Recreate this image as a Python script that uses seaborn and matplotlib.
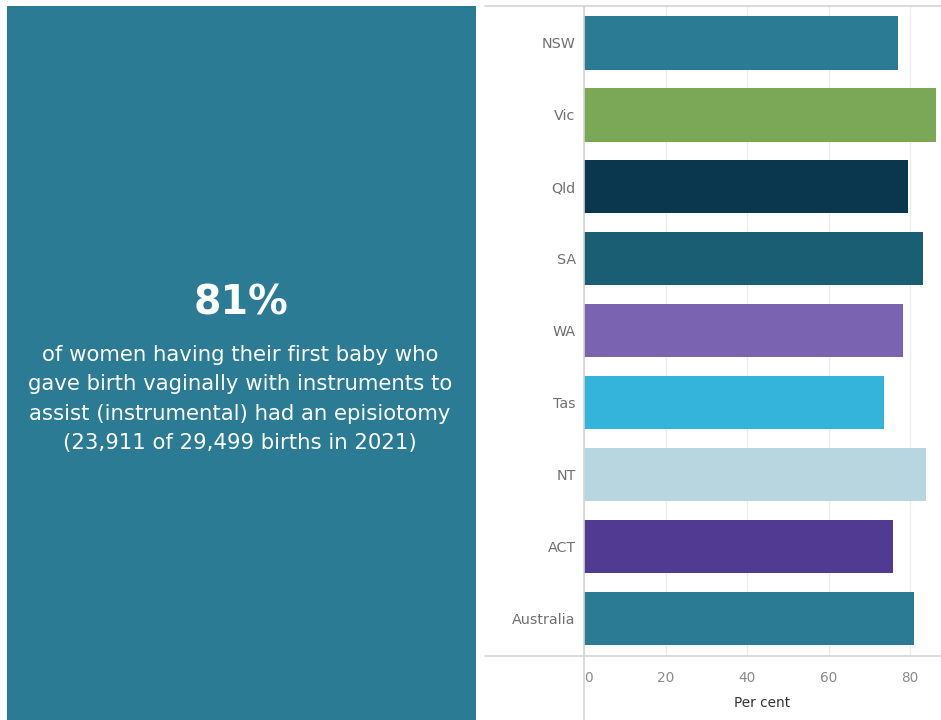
import matplotlib
matplotlib.use("Agg")
import matplotlib.pyplot as plt
from matplotlib.lines import Line2D
from matplotlib.patches import Rectangle
import seaborn as sns
import pandas as pd

# Episiotomy rates for first-time mothers with instrumental vaginal birth, 2021
states = ["NSW", "Vic", "Qld", "SA", "WA", "Tas", "NT", "ACT", "Australia"]
per_cent = [77.1, 86.4, 79.4, 83.1, 78.3, 73.5, 83.9, 75.9, 81.0]
bar_colours = ["#2a7b93", "#7aa857", "#0a374d", "#1a5e74", "#7a63b0",
               "#34b3db", "#b8d6df", "#503a92", "#2a7b93"]
x_ticks = [0, 20, 40, 60, 80]

headline = "81%"
summary = ("of women having their first baby who\n"
           "gave birth vaginally with instruments to\n"
           "assist (instrumental) had an episiotomy\n"
           "(23,911 of 29,499 births in 2021)")

sns.set_theme(style="white")
plt.rcParams["font.family"] = ["DejaVu Sans"]

W, H = 941, 720
fig = plt.figure(figsize=(W / 100, H / 100), dpi=100)
fig.patch.set_facecolor("white")

# Highlight panel on the left
panel = Rectangle((7 / W, 0), (476 - 7) / W, 1 - 6 / H, transform=fig.transFigure,
                  facecolor="#2a7b93", edgecolor="none")
fig.add_artist(panel)
fig.text(241 / W, 1 - 303 / H, headline, ha="center", va="center",
         color="white", fontsize=28.5, fontweight="bold")
fig.text(240 / W, 1 - 399 / H, summary, ha="center", va="center",
         color="white", fontsize=15.3, linespacing=1.58)

# Bar chart on the right
ax_left, ax_right = 584 / W, 941 / W
ax_top, ax_bottom = 1 - 6 / H, 1 - 656 / H
ax = fig.add_axes([ax_left, ax_bottom, ax_right - ax_left, ax_top - ax_bottom])

df = pd.DataFrame({"state": states, "value": per_cent})
sns.barplot(data=df, x="value", y="state", hue="state", palette=bar_colours,
            order=states, legend=False, width=0.745, saturation=1, ax=ax,
            edgecolor="none")

ax.set_xlim(0, 87.6)
ax.set_ylim(8.52, -0.51)
ax.set_xticks(x_ticks)
ax.set_xticklabels([str(t) for t in x_ticks])
ax.set_axisbelow(True)
ax.xaxis.grid(True, color="#ececec", linewidth=1)
ax.yaxis.grid(False)
for s in ax.spines.values():
    s.set_visible(False)

ax.tick_params(axis="y", length=0, pad=6, labelsize=10.3, labelcolor="#707070")
ax.tick_params(axis="x", length=0, pad=11, labelsize=9.8, labelcolor="#8a8a8a")
ax.get_xticklabels()[0].set_horizontalalignment("left")
ax.set_ylabel("")
ax.set_xlabel("Per cent", fontsize=9.8, color="#333333", labelpad=8)

# Frame lines: top and bottom rules plus the zero line running to the foot
line_kw = dict(transform=fig.transFigure, color="#d4d4d4", linewidth=1.2)
fig.add_artist(Line2D([485 / W, 1], [1 - 6 / H, 1 - 6 / H], **line_kw))
fig.add_artist(Line2D([485 / W, 1], [1 - 656 / H, 1 - 656 / H], **line_kw))
fig.add_artist(Line2D([ax_left, ax_left], [0, 1 - 6 / H], **line_kw))

fig.savefig("out.png", dpi=100, facecolor="white")
